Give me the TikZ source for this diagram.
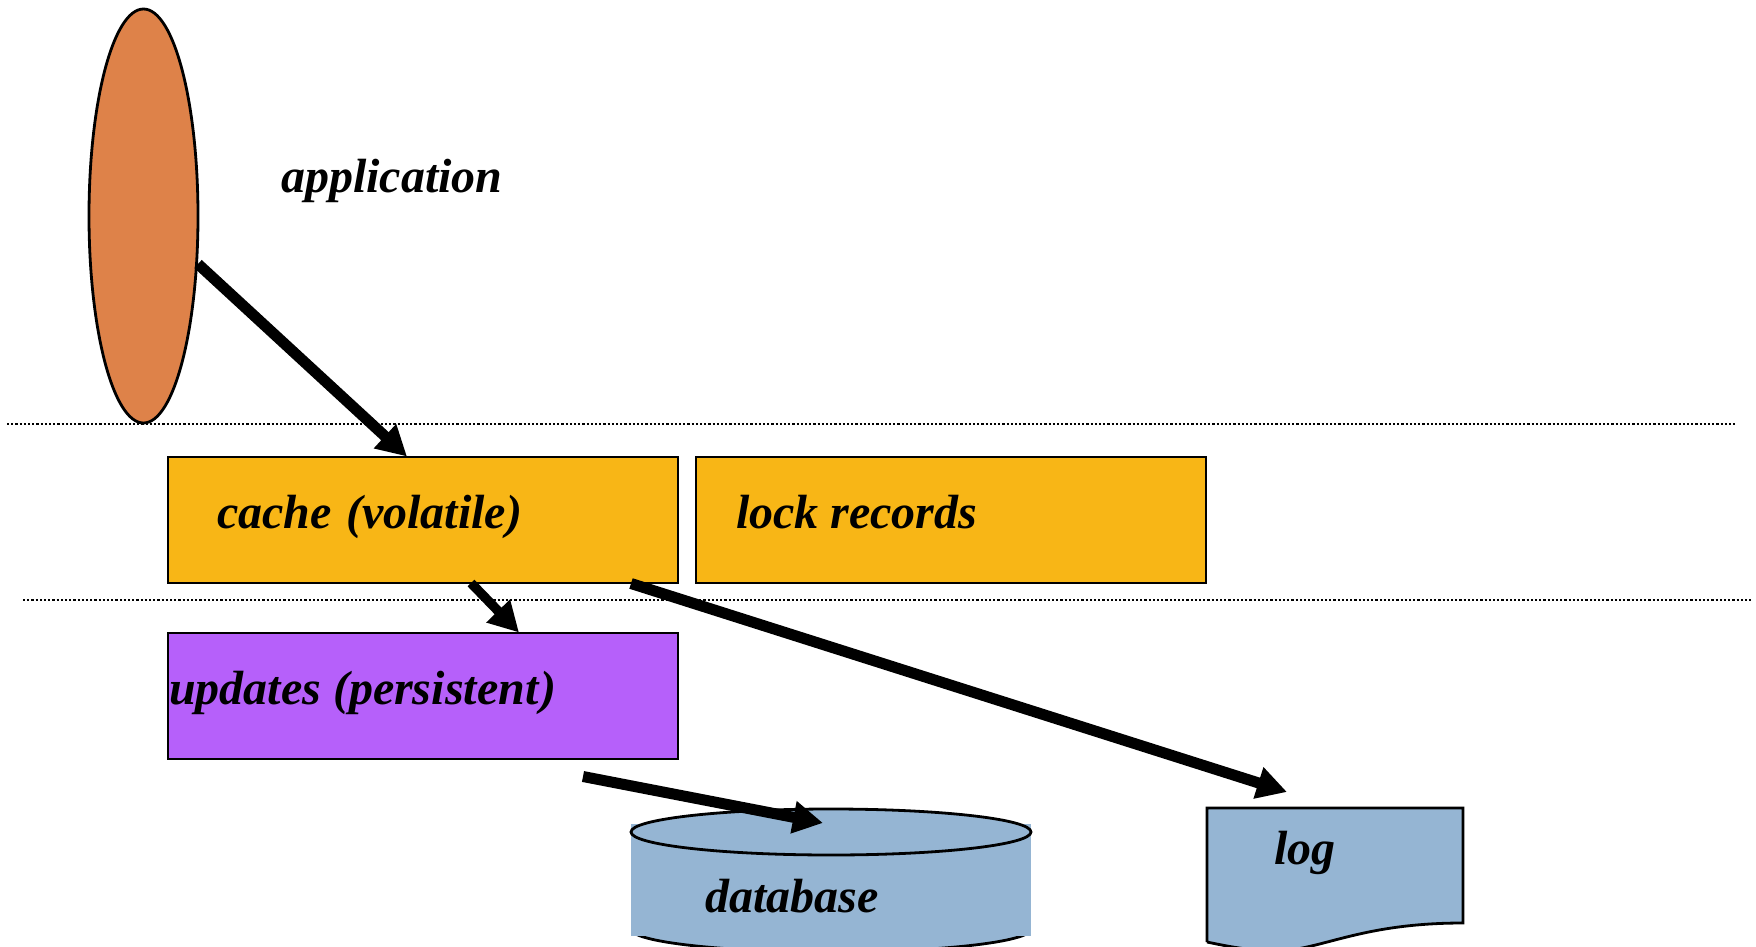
\documentclass[tikz,border=0pt]{standalone}
\usepackage{fontspec}
\setmainfont[Kerning=Off]{Liberation Serif}
\usetikzlibrary{shapes.geometric,arrows.meta}
\definecolor{appc}{HTML}{DE8249}
\definecolor{amberc}{HTML}{F8B616}
\definecolor{purplec}{HTML}{B660FA}
\definecolor{bluec}{HTML}{95B5D3}
\tikzset{
  box/.style={draw=black,line width=2.8pt,minimum width=510pt,minimum height=126pt,inner sep=0pt,outer sep=0pt},
  label/.style={anchor=base west,inner sep=0pt,outer sep=0pt,font=\fontsize{48}{56}\selectfont\bfseries\itshape},
  sep/.style={draw=black,line width=2.4pt,dash pattern=on 2.2pt off 2pt},
  flow/.style={draw=black,line width=11pt,-{Triangle[length=30pt,width=31pt]}},
  flowsmall/.style={draw=black,line width=9.5pt,-{Triangle[length=30pt,width=31pt]}},
  edge/.style={draw=black,line width=2.8pt}
}
\begin{document}
\begin{tikzpicture}[x=1pt,y=-1pt]
\path[use as bounding box,fill=white] (0,0) rectangle (1756,947);
\clip (0,0) rectangle (1756,947);
% separators
\coordinate (s1a) at (7,424);
\coordinate (s1b) at (1735,424);
\coordinate (s2a) at (23,600);
\coordinate (s2b) at (1752,600);
\draw[sep] (s1a) -- (s1b);
\draw[sep] (s2a) -- (s2b);
% application
\node[ellipse,draw=black,line width=2.8pt,fill=appc,minimum width=109pt,minimum height=414pt,inner sep=0pt,outer sep=0pt] (app) at (143.5,216) {};
\node[label] (applabel) at (281,192) {application};
% boxes
\node[box,fill=amberc] (cache) at (423,520) {};
\node[box,fill=amberc] (lock) at (951,520) {};
\node[box,fill=purplec] (updates) at (423,696) {};
\node[label] (cachelabel) at (217,528) {cache\kern2.5pt{} (volatile)};
\node[label] (locklabel) at (736,528) {lock records};
\node[label] (updateslabel) at (169,704) {updates (persistent\kern2pt{})};
% database
\begin{scope}
\clip (600,936) rectangle (1060,947);
\draw[edge,fill=bluec] (831,929) ellipse [x radius=200,y radius=23];
\end{scope}
\fill[bluec] (631,824) rectangle (1031,936);
\node[ellipse,draw=black,line width=2.8pt,fill=bluec,minimum width=400pt,minimum height=46pt,inner sep=0pt,outer sep=0pt] (db) at (831,832) {};
\node[label] (dblabel) at (705,912) {database};
% log
\path[edge,fill=bluec] (1207,942) -- (1207,808) -- (1463,808) -- (1463,923)
  .. controls (1370,923) and (1330,945) .. (1290,950)
  .. controls (1265,953) and (1235,948) .. (1207,942);
\node[label] (loglabel) at (1274,864) {log};
% connectors
\coordinate (a1s) at (198,264);
\coordinate (a1t) at (407,456.5);
\coordinate (a2s) at (471,583);
\coordinate (a2t) at (519,632.5);
\coordinate (a3s) at (631,583.5);
\coordinate (a3t) at (1287,792);
\coordinate (a4s) at (583,776.5);
\coordinate (a4t) at (823,823);
\draw[flow] (a1s) -- (a1t);
\draw[flowsmall] (a2s) -- (a2t);
\draw[flow] (a3s) -- (a3t);
\draw[flow] (a4s) -- (a4t);
\end{tikzpicture}
\end{document}
